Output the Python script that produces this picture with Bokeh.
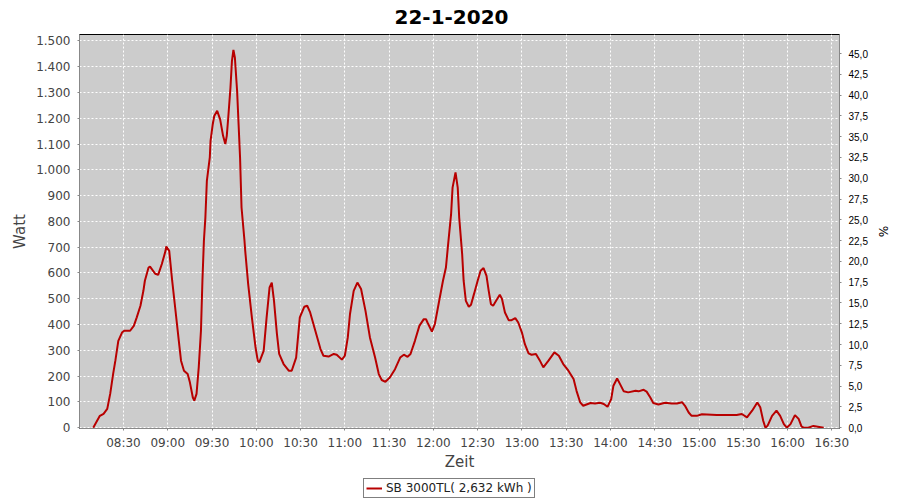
from bokeh.plotting import figure
from bokeh.layouts import column
from bokeh.models import Range1d, LinearAxis, FixedTicker, Legend, LegendItem
from bokeh.embed import file_html
from bokeh.resources import INLINE

# ---- data ----
TIMES = [
    "08:09:30", "08:14:00", "08:16:30", "08:19:00", "08:21:00", "08:23:00", "08:24:30", "08:26:30",
    "08:29:00", "08:30:30", "08:34:30", "08:37:00", "08:39:00", "08:41:30", "08:43:30", "08:44:30",
    "08:47:00", "08:48:00", "08:51:30", "08:53:30", "08:56:00", "08:58:30", "08:59:00", "09:01:00",
    "09:03:00", "09:05:30", "09:07:30", "09:09:00", "09:11:00", "09:13:30", "09:15:00", "09:17:00",
    "09:18:00", "09:19:30", "09:21:00", "09:22:30", "09:23:30", "09:24:30", "09:25:30", "09:26:30",
    "09:28:30", "09:29:00", "09:30:30", "09:31:30", "09:33:30", "09:35:30", "09:37:30", "09:39:00",
    "09:40:00", "09:41:00", "09:42:30", "09:43:30", "09:44:30", "09:45:30", "09:47:00", "09:48:00",
    "09:49:00", "09:50:00", "09:52:00", "09:52:30", "09:54:30", "09:57:00", "09:59:30", "10:01:00",
    "10:02:00", "10:05:00", "10:07:00", "10:09:00", "10:10:30", "10:12:00", "10:14:00", "10:15:30",
    "10:18:30", "10:22:00", "10:24:00", "10:27:00", "10:29:30", "10:32:30", "10:34:30", "10:36:30",
    "10:40:00", "10:43:30", "10:45:30", "10:49:00", "10:52:30", "10:54:30", "10:58:00", "11:00:00",
    "11:02:00", "11:03:30", "11:06:00", "11:08:30", "11:11:00", "11:14:00", "11:17:00", "11:20:30",
    "11:23:00", "11:25:00", "11:27:30", "11:30:30", "11:34:00", "11:37:30", "11:40:00", "11:42:30",
    "11:44:30", "11:47:30", "11:50:30", "11:53:30", "11:55:00", "11:56:00", "11:59:00", "12:01:00",
    "12:03:30", "12:06:30", "12:08:30", "12:10:00", "12:12:00", "12:13:00", "12:15:00", "12:16:30",
    "12:17:30", "12:19:30", "12:20:30", "12:22:00", "12:24:00", "12:25:30", "12:27:30", "12:30:00",
    "12:32:00", "12:34:00", "12:36:00", "12:37:30", "12:39:00", "12:40:30", "12:42:30", "12:45:00",
    "12:46:30", "12:48:30", "12:51:00", "12:53:00", "12:55:30", "12:57:30", "13:00:00", "13:02:00",
    "13:04:30", "13:06:30", "13:09:30", "13:12:00", "13:14:30", "13:18:00", "13:22:00", "13:25:00",
    "13:28:00", "13:31:30", "13:35:00", "13:37:00", "13:39:30", "13:41:30", "13:46:30", "13:49:30",
    "13:53:00", "13:55:30", "13:58:00", "14:00:30", "14:02:00", "14:04:30", "14:06:30", "14:09:00",
    "14:12:00", "14:17:00", "14:19:00", "14:22:30", "14:24:30", "14:27:00", "14:29:00", "14:32:30",
    "14:37:00", "14:41:30", "14:45:00", "14:48:30", "14:50:30", "14:53:00", "14:55:00", "14:58:30",
    "15:02:00", "15:12:00", "15:25:30", "15:29:00", "15:32:30", "15:36:00", "15:39:30", "15:41:30",
    "15:43:30", "15:45:00", "15:46:30", "15:49:30", "15:52:30", "15:55:00", "15:57:30", "15:59:30",
    "16:02:00", "16:05:00", "16:07:30", "16:09:30", "16:11:00", "16:14:00", "16:17:30", "16:24:30",
]
WATT = [
    0, 46, 54, 73, 131, 209, 260, 337,
    369, 376, 376, 395, 428, 473, 531, 570,
    621, 625, 597, 593, 635, 686, 703, 686,
    570, 441, 337, 260, 221, 208, 176, 117,
    105, 131, 234, 376, 570, 725, 815, 957,
    1048, 1112, 1177, 1209, 1229, 1196, 1132, 1100,
    1132, 1203, 1319, 1422, 1465, 1435, 1306, 1177,
    1048, 854, 725, 686, 557, 428, 311, 260,
    253, 298, 428, 544, 563, 492, 363, 286,
    247, 221, 221, 272, 428, 469, 473, 447,
    376, 305, 279, 276, 286, 283, 264, 279,
    350, 441, 531, 563, 538, 453, 350, 272,
    208, 185, 178, 195, 227, 272, 283, 275,
    286, 337, 395, 421, 421, 408, 373, 402,
    479, 570, 621, 712, 828, 931, 990, 931,
    815, 673, 570, 492, 469, 477, 518, 570,
    609, 619, 589, 531, 479, 473, 492, 516,
    499, 447, 417, 417, 425, 408, 369, 324,
    288, 283, 286, 262, 234, 260, 292, 279,
    247, 221, 189, 143, 98, 85, 96, 94,
    97, 92, 81, 111, 163, 191, 169, 141,
    137, 143, 141, 147, 140, 117, 96, 90,
    97, 94, 94, 99, 85, 59, 46, 46,
    52, 49, 49, 53, 40, 66, 98, 79,
    27, 0, 8, 46, 66, 46, 14, 0,
    14, 49, 34, 4, 0, 0, 7, 0,
]
X_TICK_LABELS = ["08:30", "09:00", "09:30", "10:00", "10:30", "11:00", "11:30", "12:00", "12:30",
                 "13:00", "13:30", "14:00", "14:30", "15:00", "15:30", "16:00", "16:30"]
W_TICKS = [0, 100, 200, 300, 400, 500, 600, 700, 800, 900, 1000, 1100, 1200, 1300, 1400, 1500]
W_TICK_LABELS = ["0", "100", "200", "300", "400", "500", "600", "700", "800", "900",
                 "1.000", "1.100", "1.200", "1.300", "1.400", "1.500"]
PCT_TICKS = [0, 2.5, 5, 7.5, 10, 12.5, 15, 17.5, 20, 22.5, 25, 27.5, 30, 32.5, 35, 37.5, 40, 42.5, 45]
PCT_TICK_LABELS = ["0,0", "2,5", "5,0", "7,5", "10,0", "12,5", "15,0", "17,5", "20,0", "22,5",
                   "25,0", "27,5", "30,0", "32,5", "35,0", "37,5", "40,0", "42,5", "45,0"]
TITLE = "22-1-2020"
SERIES_LABEL = "SB 3000TL( 2,632 kWh )"


def to_min(s):
    h, m, sec = (int(v) for v in s.split(":"))
    return h * 60 + m + sec / 60.0


x = [to_min(t) for t in TIMES]
x_ticks = [to_min(t + ":00") for t in X_TICK_LABELS]

GRAY_TXT = "#444444"
AX_COL = "#888888"
LINE_COL = "#b80000"

p = figure(width=898, height=476, output_backend="svg", toolbar_location=None,
           x_range=Range1d(480.2, 995.2), y_range=Range1d(-3.1, 1525),
           min_border_left=79, min_border_right=59, min_border_top=34, min_border_bottom=48)

p.background_fill_color = "#cccccc"
p.border_fill_color = "white"
p.outline_line_color = "black"
p.outline_line_width = 1

p.title.text = TITLE
p.title.align = "left"
p.title.offset = 315
p.title.vertical_align = "top"
p.title.text_font = "DejaVu Sans"
p.title.text_font_size = "20px"
p.title.text_font_style = "bold"
p.title.text_color = "black"
p.title.standoff = 17

# x axis
xa = p.xaxis[0]
xa.ticker = FixedTicker(ticks=x_ticks)
xa.major_label_overrides = {tv: lab for tv, lab in zip(x_ticks, X_TICK_LABELS)}
xa.axis_label = "Zeit"
xa.axis_label_text_font = "DejaVu Sans"
xa.axis_label_text_font_size = "15px"
xa.axis_label_text_font_style = "normal"
xa.axis_label_text_color = GRAY_TXT
xa.axis_label_standoff = 0
xa.major_label_text_font = "DejaVu Sans"
xa.major_label_text_font_size = "12px"
xa.major_label_text_color = GRAY_TXT
xa.major_label_standoff = 5
xa.major_tick_out = 2
xa.major_tick_in = 0
xa.minor_tick_out = 0
xa.minor_tick_in = 0
xa.axis_line_color = AX_COL
xa.major_tick_line_color = AX_COL

# left y axis
ya = p.yaxis[0]
ya.ticker = FixedTicker(ticks=W_TICKS)
ya.major_label_overrides = {tv: lab for tv, lab in zip(W_TICKS, W_TICK_LABELS)}
ya.axis_label = "Watt"
ya.axis_label_text_font = "DejaVu Sans"
ya.axis_label_text_font_size = "15px"
ya.axis_label_text_font_style = "normal"
ya.axis_label_text_color = GRAY_TXT
ya.axis_label_standoff = 4
ya.major_label_text_font = "DejaVu Sans"
ya.major_label_text_font_size = "12px"
ya.major_label_text_color = GRAY_TXT
ya.major_label_standoff = 7
ya.major_tick_out = 2
ya.major_tick_in = 0
ya.minor_tick_out = 0
ya.minor_tick_in = 0
ya.axis_line_color = AX_COL
ya.major_tick_line_color = AX_COL

# right % axis
p.extra_y_ranges = {"pct": Range1d(-0.1, 47.29)}
ra = LinearAxis(y_range_name="pct", ticker=FixedTicker(ticks=PCT_TICKS))
ra.major_label_overrides = {tv: lab for tv, lab in zip(PCT_TICKS, PCT_TICK_LABELS)}
ra.axis_label = "%"
ra.axis_label_text_font = "DejaVu Sans"
ra.axis_label_text_font_size = "12px"
ra.axis_label_text_font_style = "normal"
ra.axis_label_text_color = "black"
ra.axis_label_standoff = 5
ra.major_label_text_font = "Liberation Sans"
ra.major_label_text_font_size = "10px"
ra.major_label_text_color = "black"
ra.major_label_standoff = 7
ra.major_tick_out = 2
ra.major_tick_in = 0
ra.minor_tick_out = 0
ra.minor_tick_in = 0
ra.axis_line_color = AX_COL
ra.major_tick_line_color = AX_COL
p.add_layout(ra, "right")

# grids
for g in (p.xgrid[0], p.ygrid[0]):
    g.grid_line_color = "white"
    g.grid_line_dash = "2 2"
    g.grid_line_width = 1
    g.grid_line_alpha = 1.0

r = p.line(x, WATT, line_color=LINE_COL, line_width=2)

# legend strip below the chart (its frame is aligned with the main frame by the column)
lg = figure(width=898, height=22, output_backend="svg", toolbar_location=None,
            x_axis_location=None, y_axis_location=None,
            x_range=Range1d(480.2, 995.2), y_range=Range1d(-20000, -10000),
            min_border_left=0, min_border_right=0, min_border_top=0, min_border_bottom=0)
lg.outline_line_color = None
lg.background_fill_color = "white"
lg.border_fill_color = "white"
lg.xgrid.visible = False
lg.ygrid.visible = False
# same series, scrolled out of this strip's view; only its legend entry shows
r2 = lg.line(x, WATT, line_color=LINE_COL, line_width=2)
legend = Legend(items=[LegendItem(label=SERIES_LABEL, renderers=[r2])],
                location=(284, 0), orientation="horizontal",
                border_line_color="black", border_line_width=1,
                background_fill_color="white", background_fill_alpha=1.0,
                padding=2, margin=0, spacing=0,
                glyph_width=16, glyph_height=14, label_height=14,
                label_standoff=4, label_text_font="DejaVu Sans",
                label_text_font_size="12px", label_text_color="#222222")
lg.add_layout(legend, "center")

layout = column(p, lg, spacing=0)

open("out.html", "w").write(file_html(layout, INLINE))
